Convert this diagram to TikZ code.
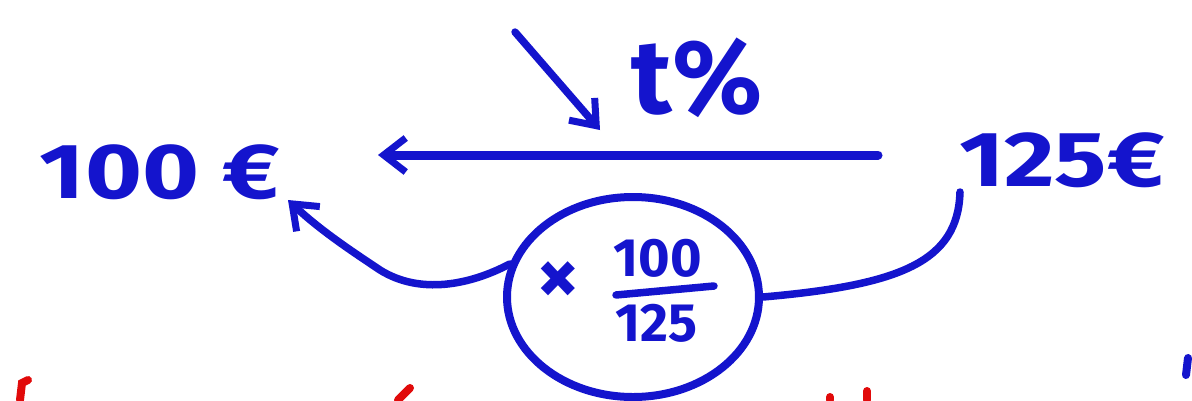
\documentclass[tikz,border=0pt]{standalone}
\usepackage{fontspec}
\setmainfont{Fira Sans}
\usetikzlibrary{arrows.meta,shapes.geometric}
\definecolor{ink}{RGB}{20,20,205}
\definecolor{redink}{RGB}{225,10,10}
\tikzset{
  hand/.style={text=ink, inner sep=0pt, font=\fontsize{78}{80}\selectfont\bfseries},
  pen/.style={draw=ink, line width=7.5pt, line cap=round, line join=round},
  tip/.style={-{Straight Barb[length=22pt,width=34pt,line width=7pt]}},
  redpen/.style={draw=redink, line width=8pt, line cap=round},
}
\begin{document}
\begin{tikzpicture}[x=1pt,y=-1pt]
\useasboundingbox[fill=white] (0,0) rectangle (1192,400);
% value nodes
\node[hand, anchor=center] (a) at (160,172) {\scalebox{1.25}[1]{100 €}};
\node[hand, anchor=center] (b) at (1062,160) {\scalebox{1.25}[1]{125€}};
% percentage label
\node[hand, font=\fontsize{105}{105}\selectfont\bfseries] (t) at (697,78) {t\%};
% main arrow endpoints
\coordinate (bL) at (878,155);
\coordinate (aR) at (378,155);
\draw[pen, line width=9pt, tip] (bL) -- (aR);
% diagonal arrow
\coordinate (d1) at (515,32);
\coordinate (d2) at (600,130);
\draw[pen, tip] (d1) -- (d2);
% ellipse with factor
\node[draw=ink, line width=8pt, ellipse, minimum width=252pt, minimum height=200pt, inner sep=0pt] (e) at (633,297) {};
\node[hand, font=\fontsize{84}{84}\selectfont\bfseries] (x) at (558,283) {×};
\node[hand, font=\fontsize{54}{54}\selectfont\bfseries] (num) at (658,258) {100};
\node[hand, font=\fontsize{54}{54}\selectfont\bfseries] (den) at (656,323) {125};
\draw[pen] (616,295) -- (714,286);
% curved connector
\coordinate (bB) at (960,192);
\coordinate (aB) at (288,200);
\draw[pen] (bB) .. controls (958,262) and (900,285) .. (e.east);
\draw[pen, tip] (e.165) .. controls (470,285) and (420,295) .. (380,270) .. controls (350,250) and (320,230) .. (aB);
% cut-off marks at bottom edge
\draw[redpen] (20,400) -- (22,383) -- (28,380);
\draw[redpen] (398,400) -- (410,388);
\draw[redpen] (830,400) -- (830,397);
\draw[redpen] (867,400) -- (867,391);
\draw[pen, line width=8pt] (1188,358) -- (1186,375);
\end{tikzpicture}
\end{document}
